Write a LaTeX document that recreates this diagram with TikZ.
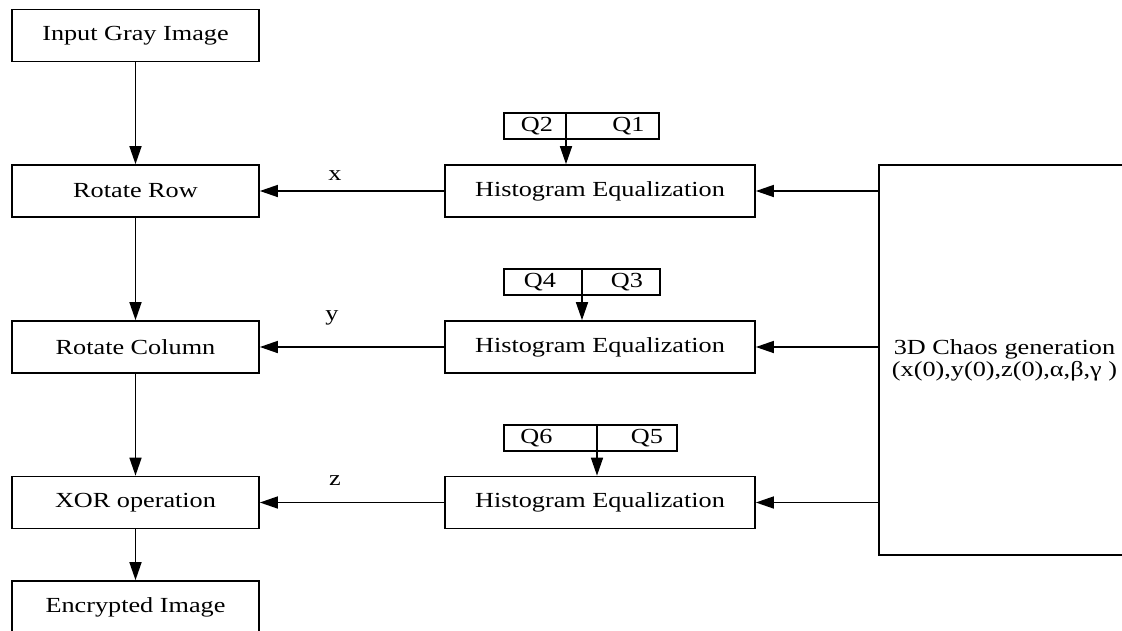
\documentclass[tikz,border=0pt]{standalone}
\usepackage{fontspec}
\setmainfont[FakeStretch=1.22]{Liberation Serif}
\usetikzlibrary{arrows.meta}
\tikzset{
  box/.style={draw, line width=1.7pt, rectangle, inner sep=0pt, font=\fontsize{21.5}{25}\selectfont},
  leftbox/.style={box, minimum width=247pt, minimum height=52pt},
  histbox/.style={box, minimum width=310pt, minimum height=52pt},
  qbox/.style={box, minimum height=26pt, outer sep=0pt},
  lbl/.style={font=\fontsize{21.5}{25}\selectfont, inner sep=0pt},
  arr/.style={line width=1.6pt, -{Triangle[length=18pt,width=12pt]}}
}
\begin{document}
\begin{tikzpicture}[x=1pt,y=-1pt]
\clip (0,0) rectangle (1122,630);
\fill[white] (0,0) rectangle (1122,630);
% left column
\node[leftbox] (in)  at (135.5,35.5) {Input Gray Image};
\node[leftbox] (row) at (135.5,191) {Rotate Row};
\node[leftbox] (col) at (135.5,347) {Rotate Column};
\node[leftbox] (xor) at (135.5,502.5) {XOR operation};
\node[leftbox] (enc) at (135.5,607) {Encrypted Image};
% histogram boxes
\node[histbox] (h1) at (600,191) {Histogram Equalization};
\node[histbox] (h2) at (600,347) {Histogram Equalization};
\node[histbox] (h3) at (600,502.5) {Histogram Equalization};
% Q boxes
\node[qbox, minimum width=62pt] (q2) at (535,126) {\hspace*{4pt}Q2};
\node[qbox, minimum width=93pt, anchor=west] (q1) at (q2.east) {\hspace*{32pt}Q1};
\node[qbox, minimum width=78pt] (q4) at (543,282) {\hspace*{-6pt}Q4};
\node[qbox, minimum width=78pt, anchor=west] (q3) at (q4.east) {\hspace*{12pt}Q3};
\node[qbox, minimum width=93pt] (q6) at (550.5,438) {\hspace*{-28pt}Q6};
\node[qbox, minimum width=80pt, anchor=west] (q5) at (q6.east) {\hspace*{20pt}Q5};
% chaos box
\node[box, minimum width=251pt, minimum height=390pt, align=center] (ch) at (1004.5,360) {3D Chaos generation\\[-3pt](x(0),y(0),z(0),α,β,γ )};
% vertical arrows
\draw[arr] (in) -- (row);
\draw[arr] (row) -- (col);
\draw[arr] (col) -- (xor);
\draw[arr] (xor) -- (enc);
% Q arrows
\draw[arr] (q2.south east) -- (q2.south east |- h1.north);
\draw[arr] (q4.south east) -- (q4.south east |- h2.north);
\draw[arr] (q6.south east) -- (q6.south east |- h3.north);
% chaos to histogram
\draw[arr] (h1.east -| ch.west) -- (h1.east);
\draw[arr] (h2.east -| ch.west) -- (h2.east);
\draw[arr] (h3.east -| ch.west) -- (h3.east);
% histogram to left
\draw[arr] (h1.west) -- (row.east);
\draw[arr] (h2.west) -- (col.east);
\draw[arr] (h3.west) -- (xor.east);
% labels
\node[lbl] (lx) at (335,176) {x};
\node[lbl] (ly) at (332,318) {y};
\node[lbl] (lz) at (335,481) {z};
\end{tikzpicture}
\end{document}
